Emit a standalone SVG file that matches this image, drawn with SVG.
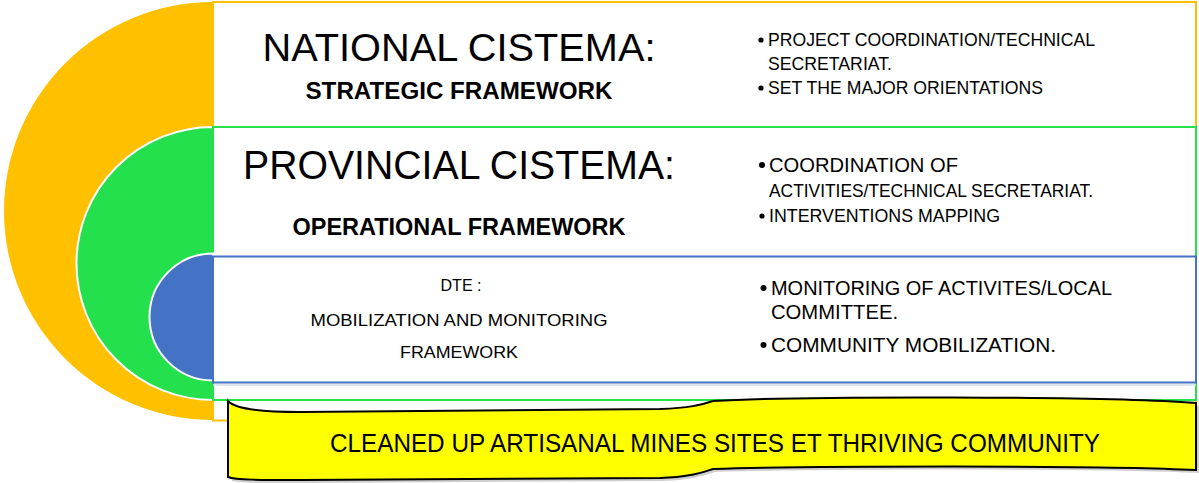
<svg xmlns="http://www.w3.org/2000/svg" width="1199" height="483" viewBox="0 0 1199 483">
<style>
.t{font-family:"Liberation Sans",Arial,sans-serif;fill:#000}
.b{font-weight:bold}
.c{text-anchor:middle}
.bl{fill:#000}
</style>
<rect x="0" y="0" width="1199" height="483" fill="#fff"/>
<g id="national">
<path d="M213,2 A209,209 0 0,0 213,420 Z" fill="#FFC000"/>
<rect x="213" y="2" width="983" height="418.5" fill="#fff" stroke="#FFC000" stroke-width="2"/>
<text class="t c" x="459" y="61" font-size="39" textLength="393" lengthAdjust="spacingAndGlyphs">NATIONAL CISTEMA:</text>
<text class="t b c" x="459" y="99" font-size="24" textLength="307" lengthAdjust="spacingAndGlyphs">STRATEGIC FRAMEWORK</text>
<circle class="bl" cx="761" cy="40" r="2.6"/>
<text class="t" x="768" y="46" font-size="17.5" textLength="327" lengthAdjust="spacingAndGlyphs">PROJECT COORDINATION/TECHNICAL</text>
<text class="t" x="768" y="70" font-size="17.5" textLength="124" lengthAdjust="spacingAndGlyphs">SECRETARIAT.</text>
<circle class="bl" cx="761" cy="88" r="2.6"/>
<text class="t" x="768" y="94" font-size="17.5" textLength="275" lengthAdjust="spacingAndGlyphs">SET THE MAJOR ORIENTATIONS</text>
</g>
<g id="provincial">
<path d="M213,127 A136.5,136.5 0 0,0 213,400 Z" fill="#24E04C" stroke="#fff" stroke-width="2"/>
<rect x="213" y="127" width="983" height="273" fill="#fff" stroke="#24E04C" stroke-width="2"/>
<text class="t c" x="459" y="179" font-size="41" textLength="432" lengthAdjust="spacingAndGlyphs">PROVINCIAL CISTEMA:</text>
<text class="t b c" x="459" y="235" font-size="24" textLength="333" lengthAdjust="spacingAndGlyphs">OPERATIONAL FRAMEWORK</text>
<circle class="bl" cx="762" cy="165" r="3"/>
<text class="t" x="769" y="172" font-size="20" textLength="189" lengthAdjust="spacingAndGlyphs">COORDINATION OF</text>
<text class="t" x="769" y="197" font-size="18" textLength="324" lengthAdjust="spacingAndGlyphs">ACTIVITIES/TECHNICAL SECRETARIAT.</text>
<circle class="bl" cx="762" cy="216" r="2.6"/>
<text class="t" x="769" y="222" font-size="17.5" textLength="231" lengthAdjust="spacingAndGlyphs">INTERVENTIONS MAPPING</text>
</g>
<g id="dte">
<path d="M213,253.5 A63.5,63.5 0 0,0 213,380.5 Z" fill="#4472C4" stroke="#fff" stroke-width="2"/>
<rect x="213" y="256.5" width="983" height="126" fill="#fff" stroke="#4472C4" stroke-width="2"/>
<line x1="213" y1="385" x2="1196" y2="385" stroke="#D6DEEC" stroke-width="1.5"/>
<text class="t c" x="461" y="291" font-size="16" textLength="41" lengthAdjust="spacingAndGlyphs">DTE :</text>
<text class="t c" x="459" y="326" font-size="16" textLength="297" lengthAdjust="spacingAndGlyphs">MOBILIZATION AND MONITORING</text>
<text class="t c" x="459" y="358" font-size="16" textLength="118" lengthAdjust="spacingAndGlyphs">FRAMEWORK</text>
<circle class="bl" cx="763.5" cy="288" r="3"/>
<text class="t" x="771" y="295" font-size="20.5" textLength="341" lengthAdjust="spacingAndGlyphs">MONITORING OF ACTIVITES/LOCAL</text>
<text class="t" x="771" y="319" font-size="20.5" textLength="127" lengthAdjust="spacingAndGlyphs">COMMITTEE.</text>
<circle class="bl" cx="763.5" cy="345" r="3"/>
<text class="t" x="771" y="352" font-size="20.5" textLength="285" lengthAdjust="spacingAndGlyphs">COMMUNITY MOBILIZATION.</text>
</g>
<g id="outcome">
<path d="M230,404 C236,410 262,413 300,413 L660,410 C690,409 700,406 713,402 C800,398 1100,397 1197,404 L1197,471 C1100,466 800,467 713,470 C700,474 690,478 660,479 L300,481 C262,481 238,481 230,479 Z" fill="#A0A0A0" opacity="0.5" transform="translate(2,2)"/>
<path d="M228,401 C234,408 260,412 300,412 L660,409 C690,408 700,405 713,401 C800,396 1100,396 1196,403 L1196,470 C1100,465 800,466 713,469 C700,473 690,477 660,478 L300,480 C260,480 236,480 228,477 Z" fill="#FFFF00" stroke="#000" stroke-width="2"/>
<text class="t c" x="715" y="452" font-size="25" textLength="770" lengthAdjust="spacingAndGlyphs">CLEANED UP ARTISANAL MINES SITES ET THRIVING COMMUNITY</text>
</g>
<g id="connectors"></g>
</svg>
